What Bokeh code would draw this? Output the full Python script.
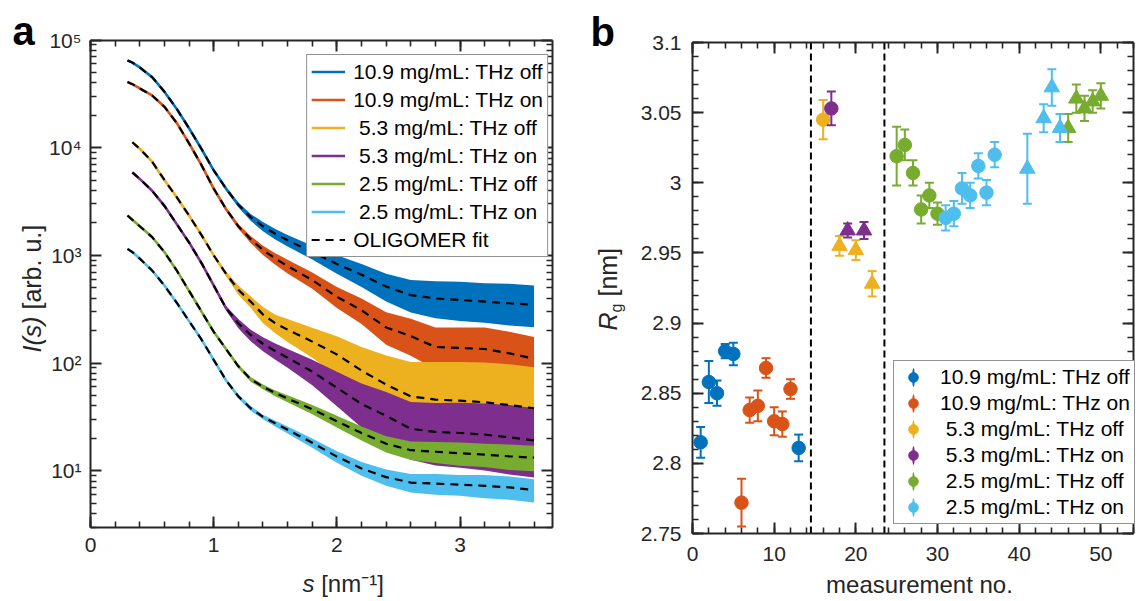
import math
from bokeh.plotting import figure
from bokeh.layouts import row
from bokeh.models import (ColumnDataSource, FixedTicker, LinearAxis, LogAxis, Legend, LegendItem,
                          Label, Range1d, CustomJSTickFormatter)
from bokeh.embed import file_html
from bokeh.resources import INLINE

FONT = "Liberation Sans"
INK = "#262626"

# ---------------- data: panel a (SAXS curves, OLIGOMER fits) ----------------
SERIES_LABELS = ["10.9 mg/mL: THz off", "10.9 mg/mL: THz on",
                 "\u00a05.3 mg/mL: THz off", "\u00a05.3 mg/mL: THz on",
                 "\u00a02.5 mg/mL: THz off", "\u00a02.5 mg/mL: THz on"]
FIT_LABEL = "OLIGOMER fit"
COLORS = ["#0072BD", "#D95319", "#EDB120", "#7E2F8E", "#77AC30", "#4DBEEE"]

S_GRID = [0.3, 0.34, 0.4, 0.5, 0.6, 0.7, 0.8, 0.9, 1.0, 1.1, 1.2, 1.3, 1.4, 1.5, 1.6,
          1.8, 2.0, 2.2, 2.4, 2.6, 2.8, 3.0, 3.2, 3.4, 3.6]
S_GRID_53 = [0.34, 0.4, 0.5, 0.6, 0.7, 0.8, 0.9, 1.0, 1.1, 1.2, 1.3, 1.4, 1.5, 1.6,
             1.8, 2.0, 2.2, 2.4, 2.6, 2.8, 3.0, 3.2, 3.4, 3.6]

I_109_OFF = [64600, 61660, 55590, 45190, 33110, 22910, 15140, 9772, 6166, 4169, 2951, 2265,
             1862, 1585, 1380, 1072, 832, 661, 513, 427, 398, 385, 372, 359, 347]
I_109_ON = [40740, 38900, 35480, 30550, 23990, 16980, 10970, 6918, 4169, 2692, 1862, 1413,
            1122, 933, 794, 589, 412, 309, 214, 178, 141, 138, 135, 123, 110]
I_53_OFF = [11220, 9772, 7413, 5012, 3467, 2344, 1549, 1000, 676, 479, 372, 282, 234, 204,
            158, 120, 85.1, 63.1, 49.0, 45.7, 44.7, 43.2, 40.7, 38.0]
I_53_ON = [5888, 5129, 3981, 2884, 1950, 1318, 851, 525, 324, 234, 182, 151, 129, 112,
           83.2, 58.9, 41.7, 32.4, 24.5, 22.9, 22.4, 21.6, 20.4, 19.1]
I_25_OFF = [2344, 2138, 1862, 1479, 1072, 724, 468, 302, 195, 135, 93.3, 70.8, 60.3, 52.5,
            46.8, 37.2, 28.8, 22.4, 17.8, 15.5, 15.0, 14.5, 14.1, 13.6, 13.2]
I_25_ON = [1148, 1072, 933, 724, 525, 363, 245, 166, 107, 69.2, 49.0, 38.0, 31.6, 27.5,
           24.0, 18.2, 13.5, 10.5, 8.71, 7.76, 7.59, 7.41, 7.24, 7.00, 6.61]

# scatter of the measured curves around the fit (half width, in decades)
NOISE_109_OFF = [0, 0, 0, 0, 0, 0, 0, 0, 0.01, 0.015, 0.02, 0.03, 0.04, 0.045, 0.05,
                 0.06, 0.08, 0.10, 0.12, 0.14, 0.16, 0.17, 0.17, 0.18, 0.18]
NOISE_109_ON = [0, 0, 0, 0, 0, 0, 0, 0, 0.01, 0.015, 0.02, 0.03, 0.04, 0.05, 0.06,
                0.07, 0.09, 0.11, 0.14, 0.16, 0.18, 0.19, 0.20, 0.20, 0.20]
NOISE_53_OFF = [0, 0, 0, 0, 0, 0, 0.005, 0.01, 0.02, 0.04, 0.05, 0.07, 0.08, 0.10,
                0.13, 0.17, 0.22, 0.27, 0.32, 0.35, 0.36, 0.37, 0.38, 0.38]
NOISE_53_ON = [0, 0, 0, 0, 0, 0, 0.005, 0.01, 0.02, 0.04, 0.05, 0.06, 0.07, 0.08,
               0.11, 0.15, 0.19, 0.22, 0.25, 0.27, 0.28, 0.29, 0.30, 0.30]
NOISE_25_OFF = [0, 0, 0, 0, 0, 0, 0, 0, 0, 0.01, 0.015, 0.02, 0.02, 0.025, 0.03,
                0.04, 0.05, 0.06, 0.07, 0.08, 0.09, 0.10, 0.10, 0.11, 0.11]
NOISE_25_ON = [0, 0, 0, 0, 0, 0, 0, 0, 0, 0.01, 0.015, 0.02, 0.02, 0.025, 0.03,
               0.04, 0.05, 0.06, 0.07, 0.08, 0.09, 0.09, 0.10, 0.10, 0.10]

A_S = [S_GRID, S_GRID, S_GRID_53, S_GRID_53, S_GRID, S_GRID]
A_I = [I_109_OFF, I_109_ON, I_53_OFF, I_53_ON, I_25_OFF, I_25_ON]
A_NOISE = [NOISE_109_OFF, NOISE_109_ON, NOISE_53_OFF, NOISE_53_ON, NOISE_25_OFF, NOISE_25_ON]

# ---------------- data: panel b (radius of gyration) ----------------
N_109_OFF = [1, 2, 3, 4, 5, 13]
RG_109_OFF = [2.815, 2.858, 2.850, 2.880, 2.878, 2.811]
ERR_109_OFF = [0.011, 0.015, 0.009, 0.005, 0.008, 0.0095]
MK_109_OFF = ["circle"] * 6

N_109_ON = [6, 7, 8, 9, 10, 11, 12]
RG_109_ON = [2.772, 2.838, 2.841, 2.868, 2.830, 2.828, 2.853]
ERR_109_ON = [0.017, 0.009, 0.011, 0.007, 0.010, 0.009, 0.007]
MK_109_ON = ["circle"] * 7

N_53_OFF = [16, 18, 20, 22]
RG_53_OFF = [3.045, 2.955, 2.952, 2.928]
ERR_53_OFF = [0.014, 0.007, 0.007, 0.009]
MK_53_OFF = ["circle", "triangle", "triangle", "triangle"]

N_53_ON = [17, 19, 21]
RG_53_ON = [3.053, 2.966, 2.966]
ERR_53_ON = [0.012, 0.005, 0.006]
MK_53_ON = ["circle", "triangle", "triangle"]

N_25_OFF = [25, 26, 27, 28, 29, 30, 46, 47, 48, 49, 50]
RG_25_OFF = [3.019, 3.027, 3.007, 2.981, 2.991, 2.978, 3.039, 3.060, 3.053, 3.058, 3.062]
ERR_25_OFF = [0.021, 0.011, 0.009, 0.010, 0.009, 0.008, 0.010, 0.010, 0.009, 0.008, 0.009]
MK_25_OFF = ["circle"] * 6 + ["triangle"] * 5

N_25_ON = [31, 32, 33, 34, 35, 36, 37, 41, 43, 44, 45]
RG_25_ON = [2.975, 2.978, 2.996, 2.991, 3.012, 2.993, 3.020, 3.010, 3.046, 3.068, 3.039]
ERR_25_ON = [0.009, 0.009, 0.011, 0.009, 0.009, 0.009, 0.009, 0.025, 0.010, 0.013, 0.010]
MK_25_ON = ["circle"] * 7 + ["triangle"] * 4

B_N = [N_109_OFF, N_109_ON, N_53_OFF, N_53_ON, N_25_OFF, N_25_ON]
B_RG = [RG_109_OFF, RG_109_ON, RG_53_OFF, RG_53_ON, RG_25_OFF, RG_25_ON]
B_ERR = [ERR_109_OFF, ERR_109_ON, ERR_53_OFF, ERR_53_ON, ERR_25_OFF, ERR_25_ON]
B_MK = [MK_109_OFF, MK_109_ON, MK_53_OFF, MK_53_ON, MK_25_OFF, MK_25_ON]

SEPARATORS = [14.5, 23.5]

# ---------------- layout geometry (page pixels) ----------------
H = 600
FRAME_TOP = 15
A_W = 587                     # canvas width of panel a
B_W = 1141 - A_W              # canvas width of panel b
A_BOX = (90, 552, 39.5, 526.5)    # left, right, top, bottom of the axes box
B_BOX = (692, 1133, 42, 533)
A_XLIM, A_YLIM = (0.0, 3.75), (3.0, 1e5)
B_XLIM, B_YLIM = (0.0, 54.0), (2.75, 3.1)
MID = 0.3465                  # Liberation Sans: (ascent - descent) / 2, in em

_akx = (A_BOX[1] - A_BOX[0]) / (A_XLIM[1] - A_XLIM[0])
_aky = (A_BOX[3] - A_BOX[2]) / (math.log10(A_YLIM[1]) - math.log10(A_YLIM[0]))
_bkx = (B_BOX[1] - B_BOX[0]) / (B_XLIM[1] - B_XLIM[0])
_bky = (B_BOX[3] - B_BOX[2]) / (B_YLIM[1] - B_YLIM[0])


def ax_(px):
    return A_XLIM[0] + (px - A_BOX[0]) / _akx


def ay_(py):
    return 10 ** (math.log10(A_YLIM[1]) - (py - A_BOX[2]) / _aky)


def bx_(px):
    return B_XLIM[0] + (px - B_BOX[0]) / _bkx


def by_(py):
    return B_YLIM[1] - (py - B_BOX[2]) / _bky


EMPTY_FMT = "return '';"


def style_axis(ax, fs, standoff, labels=True):
    ax.axis_line_color = INK
    ax.axis_line_width = 2
    ax.major_tick_line_color = INK
    ax.major_tick_line_width = 2
    ax.minor_tick_line_color = INK
    ax.minor_tick_line_width = 1.6
    ax.major_tick_in = 11
    ax.major_tick_out = 0
    ax.minor_tick_in = 6
    ax.minor_tick_out = 0
    ax.major_label_text_font = FONT
    ax.major_label_text_color = INK
    ax.major_label_text_font_size = fs
    ax.major_label_standoff = standoff
    if not labels:
        ax.formatter = CustomJSTickFormatter(code=EMPTY_FMT)


def add_text(p, xy, text, size_px, style="normal", vertical=False, align="left", color=INK):
    x, y = xy
    p.add_layout(Label(x=x, y=y, text=text, text_font=FONT, text_font_size=f"{size_px}px",
                       text_font_style=style, text_color=color,
                       angle=(math.pi / 2 if vertical else 0.0),
                       text_align=align, text_baseline="middle"))


# ======================= panel a =======================
fa = figure(width=A_W, height=H,
            x_range=Range1d(ax_(0), ax_(A_W)), y_range=Range1d(ay_(H), ay_(FRAME_TOP)),
            y_axis_type="log", x_axis_location=None, y_axis_location=None,
            output_backend="svg", toolbar_location=None,
            min_border_left=0, min_border_right=0, min_border_top=FRAME_TOP,
            min_border_bottom=0)
fa.xgrid.visible = False
fa.ygrid.visible = False
fa.outline_line_color = None

xt_a = FixedTicker(ticks=[0, 1, 2, 3], minor_ticks=[round(0.2 * i, 1) for i in range(19)])
yt_a = FixedTicker(ticks=[10, 100, 1000, 10000, 100000],
                   minor_ticks=[k * 10 ** e for e in range(0, 5) for k in range(2, 10) if k * 10 ** e >= 3])
sup_fmt = CustomJSTickFormatter(code=r"""
const e = Math.round(Math.log10(tick));
const sup = ['\u2070','\u00b9','\u00b2','\u00b3','\u2074','\u2075','\u2076'];
return '10' + sup[e];
""")

a_bottom = LinearAxis(ticker=xt_a, fixed_location=A_YLIM[0], bounds=A_XLIM)
style_axis(a_bottom, "21px", 11)
fa.add_layout(a_bottom, "below")
a_left = LogAxis(ticker=yt_a, fixed_location=A_XLIM[0], bounds=A_YLIM, formatter=sup_fmt)
style_axis(a_left, "21px", 9)
fa.add_layout(a_left, "left")
a_top = LinearAxis(ticker=xt_a, fixed_location=A_YLIM[1], bounds=A_XLIM)
style_axis(a_top, "10px", 0, labels=False)
fa.add_layout(a_top, "above")
a_right = LogAxis(ticker=yt_a, fixed_location=A_XLIM[1], bounds=A_YLIM)
style_axis(a_right, "10px", 0, labels=False)
fa.add_layout(a_right, "right")

line_rs = []
fit_rs = []
srcs = []
for s_vals, i_vals, noise, col in zip(A_S, A_I, A_NOISE, COLORS):
    up = [v * 10 ** a for v, a in zip(i_vals, noise)]
    lo = [v / 10 ** (1.15 * a) for v, a in zip(i_vals, noise)]
    src = ColumnDataSource(dict(s=s_vals, I=i_vals, up=up, lo=lo))
    srcs.append(src)
    fa.varea(x="s", y1="lo", y2="up", source=src, fill_color=col, fill_alpha=1.0)
    r = fa.line(x="s", y="I", source=src, line_color=col, line_width=2.6)
    line_rs.append(r)
for src in srcs:
    rf = fa.line(x="s", y="I", source=src, line_color="black", line_width=2.2, line_dash="8 6")
    fit_rs.append(rf)

items_a = [LegendItem(label=lab, renderers=[r]) for lab, r in zip(SERIES_LABELS, line_rs)]
items_a.append(LegendItem(label=FIT_LABEL, renderers=[fit_rs[0]]))
leg_a = Legend(items=items_a, location="top_right", orientation="vertical",
               label_text_font=FONT, label_text_font_size="21px", label_text_color="black",
               glyph_width=34, glyph_height=25, label_height=25, label_standoff=8,
               spacing=3, padding=4, margin=A_W - 548,
               border_line_color=INK, border_line_width=1.6,
               background_fill_color="white", background_fill_alpha=1.0)
fa.add_layout(leg_a)

# panel letter and axis titles (anchors = glyph baseline shifted to the text middle)
add_text(fa, (ax_(12), ay_(44 - MID * 40)), "a", 40, style="bold", color="black")
add_text(fa, (ax_(40 - MID * 25), ay_(352)), "I(s)", 25, style="italic", vertical=True)
add_text(fa, (ax_(40 - MID * 25), ay_(316)), "\u00a0[arb. u.]", 25, vertical=True)
add_text(fa, (ax_(302), ay_(591 - MID * 24)), "s", 24, style="italic")
add_text(fa, (ax_(314), ay_(591 - MID * 24)), "\u00a0[nm\u207b\u00b9]", 24)

# ======================= panel b =======================
fb = figure(width=B_W, height=H,
            x_range=Range1d(bx_(A_W), bx_(A_W + B_W)), y_range=Range1d(by_(H), by_(FRAME_TOP)),
            x_axis_location=None, y_axis_location=None,
            output_backend="svg", toolbar_location=None,
            min_border_left=0, min_border_right=0, min_border_top=FRAME_TOP,
            min_border_bottom=0)
fb.xgrid.visible = False
fb.ygrid.visible = False
fb.outline_line_color = None

xt_b = FixedTicker(ticks=[0, 10, 20, 30, 40, 50], minor_ticks=list(range(0, 55, 2)))
yt_b = FixedTicker(ticks=[round(2.75 + 0.05 * i, 2) for i in range(8)],
                   minor_ticks=[round(2.75 + 0.01 * i, 2) for i in range(36)])
b_bottom = LinearAxis(ticker=xt_b, fixed_location=B_YLIM[0], bounds=B_XLIM)
style_axis(b_bottom, "21px", 13)
fb.add_layout(b_bottom, "below")
b_left = LinearAxis(ticker=yt_b, fixed_location=B_XLIM[0], bounds=B_YLIM,
                    formatter=CustomJSTickFormatter(code="return String(Number(tick.toFixed(2)));"))
style_axis(b_left, "21px", 11)
fb.add_layout(b_left, "left")
b_top = LinearAxis(ticker=xt_b, fixed_location=B_YLIM[1], bounds=B_XLIM)
style_axis(b_top, "10px", 0, labels=False)
fb.add_layout(b_top, "above")
b_right = LinearAxis(ticker=yt_b, fixed_location=B_XLIM[1], bounds=B_YLIM)
style_axis(b_right, "10px", 0, labels=False)
fb.add_layout(b_right, "right")

# group separators
fb.segment(x0=SEPARATORS, y0=[B_YLIM[0]] * len(SEPARATORS), x1=SEPARATORS,
           y1=[B_YLIM[1]] * len(SEPARATORS), line_color="black", line_width=2, line_dash="7 4")

items_b = []
for n, rg, err, mk, col, lab in zip(B_N, B_RG, B_ERR, B_MK, COLORS, SERIES_LABELS):
    src = ColumnDataSource(dict(n=n, rg=rg, up=[a + b for a, b in zip(rg, err)],
                                lo=[a - b for a, b in zip(rg, err)], mk=mk,
                                sz=[13.5 if m == "circle" else 15.5 for m in mk]))
    r_bar = fb.ellipse(x="n", y="rg", source=src, width=2, height=14,
                       width_units="screen", height_units="screen",
                       fill_color=col, line_color=None)
    fb.segment(x0="n", y0="lo", x1="n", y1="up", source=src, line_color=col, line_width=2)
    fb.scatter(x="n", y="up", source=src, marker="dash", size=9, line_color=col, line_width=2)
    fb.scatter(x="n", y="lo", source=src, marker="dash", size=9, line_color=col, line_width=2)
    r_pts = fb.scatter(x="n", y="rg", source=src, marker="mk", size="sz",
                       fill_color=col, line_color=col)
    items_b.append(LegendItem(label=lab, renderers=[r_bar, r_pts]))

# legend: bottom-left corner of its box, in pixels from the frame's bottom-left corner
leg_b = Legend(items=items_b, location=(893 - A_W, H - 524), orientation="vertical",
               label_text_font=FONT, label_text_font_size="21px", label_text_color="black",
               glyph_width=30, glyph_height=24, label_height=24, label_standoff=12,
               spacing=2, padding=4, margin=5,
               border_line_color=INK, border_line_width=1.6,
               background_fill_color="white", background_fill_alpha=1.0)
fb.add_layout(leg_b)

add_text(fb, (bx_(590), by_(45 - MID * 40)), "b", 40, style="bold", color="black")
add_text(fb, (bx_(616 - MID * 25), by_(330)), "R", 25, style="italic", vertical=True)
add_text(fb, (bx_(622 - MID * 16), by_(312)), "g", 16, vertical=True)
add_text(fb, (bx_(616 - MID * 25), by_(303)), "\u00a0[nm]", 25, vertical=True)
add_text(fb, (bx_(919), by_(592 - MID * 24)), "measurement no.", 24, align="center")

layout = row(fa, fb)
open("out.html", "w").write(file_html(layout, INLINE, "SAXS"))
